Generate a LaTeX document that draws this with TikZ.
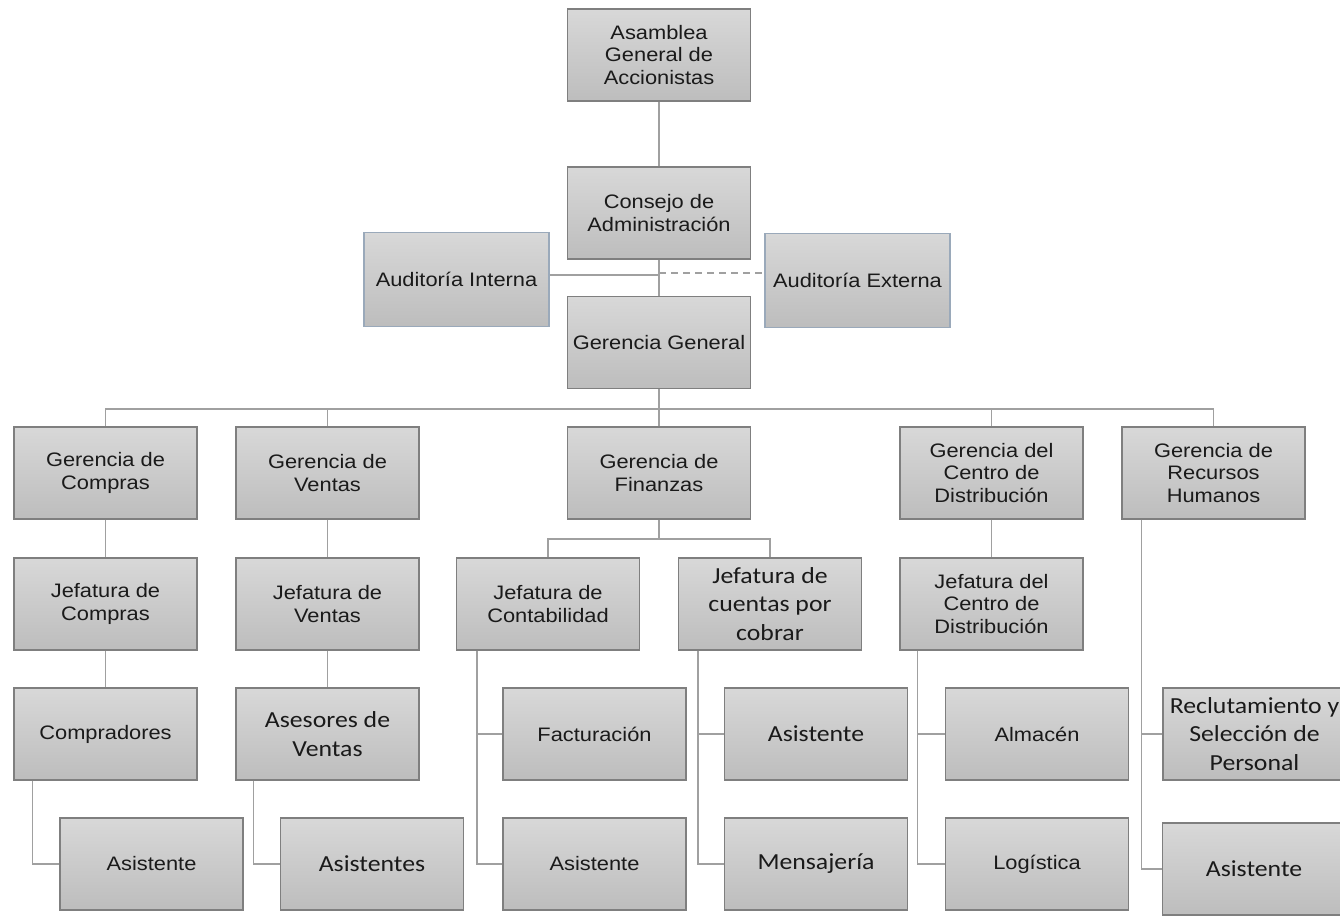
\documentclass[tikz,border=0pt]{standalone}
\usepackage{fontspec}
\setmainfont{Liberation Sans}[FakeStretch=1.12]
\newfontfamily\calib{Carlito}[FakeStretch=1.12]
\usetikzlibrary{calc}

\definecolor{boxtop}{HTML}{D8D8D8}
\definecolor{boxbot}{HTML}{BDBDBD}
\definecolor{boxline}{HTML}{7F7F7F}
\definecolor{audline}{HTML}{9AA9BA}
\definecolor{wirec}{HTML}{A0A0A0}
\definecolor{ink}{HTML}{1A1A1A}

\tikzset{
  unit/.style={draw=boxline, line width=1.3pt, top color=boxtop, bottom color=boxbot,
    minimum width=183pt, minimum height=92pt, inner sep=2pt, align=center,
    text=ink, font=\fontsize{19.5}{22.5}\selectfont},
  unitc/.style={unit, font=\calib\fontsize{23}{28.5}\selectfont},
  audit/.style={unit, draw=audline, minimum width=185pt, minimum height=94pt},
  wire/.style={draw=wirec, line width=1.6pt},
}

\begin{document}
\begin{tikzpicture}[x=1pt,y=-1pt]
\useasboundingbox (0,0) rectangle (1340,915);
\clip (0,0) rectangle (1340,915);
\fill[white] (0,0) rectangle (1340,915);

% top of the hierarchy
\node[unit] (asam) at (659,55) {Asamblea\\General de\\Accionistas};
\node[unit] (cons) at (659,213) {Consejo de\\Administración};
\node[audit] (aint) at (456.5,279.5) {Auditoría Interna};
\node[audit] (aext) at (857.5,280.5) {Auditoría Externa};
\node[unit] (ggen) at (659,342.5) {Gerencia General};

% managements
\node[unit] (gcom) at (105.5,473) {Gerencia de\\Compras};
\node[unit] (gven) at (327.5,473) {Gerencia de\\Ventas};
\node[unit] (gfin) at (659,473) {Gerencia de\\Finanzas};
\node[unit] (gdis) at (991.5,473) {Gerencia del\\Centro de\\Distribución};
\node[unit] (grh)  at (1213.5,473) {Gerencia de\\Recursos\\Humanos};

% heads
\node[unit]  (jcom) at (105.5,604) {Jefatura de\\Compras};
\node[unit]  (jven) at (327.5,604) {Jefatura de\\Ventas};
\node[unit]  (jcon) at (548,604) {Jefatura de\\Contabilidad};
\node[unitc] (jcxc) at (770,604) {Jefatura de\\cuentas por\\cobrar};
\node[unit]  (jdis) at (991.5,604) {Jefatura del\\Centro de\\Distribución};

% staff
\node[unit]  (comp) at (105.5,734) {Compradores};
\node[unitc] (ases) at (327.5,734) {Asesores de\\Ventas};
\node[unit]  (fact) at (594.5,734) {Facturación};
\node[unitc] (acxc) at (816,734) {Asistente};
\node[unit]  (alma) at (1037,734) {Almacén};
\node[unitc] (recl) at (1254.5,734) {Reclutamiento y\\Selección de\\Personal};

\node[unit]  (acom) at (151.5,864) {Asistente};
\node[unitc] (aven) at (372,864) {Asistentes};
\node[unit]  (acon) at (594.5,864) {Asistente};
\node[unitc] (mens) at (816,864) {Mensajería};
\node[unit]  (logi) at (1037,864) {Logística};
\node[unitc] (arh)  at (1254,869) {Asistente};

% connectors
\draw[wire] (asam) -- (cons);
\draw[wire] (cons) -- (ggen);
\coordinate (ai) at (659,275);
\coordinate (ae) at (659,273);
\draw[wire] (aint.east |- ai) -- (ai);
\draw[wire, dash pattern=on 7pt off 5pt] (ae) -- (aext.west |- ae);

\coordinate (bus) at (659,409);
\draw[wire] (ggen) -- (bus);
\foreach \n in {gcom,gven,gfin,gdis,grh}
  \draw[wire] (bus) -| (\n.north);

\draw[wire] (gcom) -- (jcom);
\draw[wire] (gven) -- (jven);
\draw[wire] (gdis) -- (jdis);
\draw[wire] (jcom) -- (comp);
\draw[wire] (jven) -- (ases);

\coordinate (fbus) at (659,539);
\draw[wire] (gfin) -- (fbus);
\draw[wire] (fbus) -| (jcon.north);
\draw[wire] (fbus) -| (jcxc.north);

\draw[wire] ($(comp.south west)+(19,0)$) |- (acom.west);
\draw[wire] ($(ases.south west)+(18,0)$) |- (aven.west);
\draw[wire] ($(jcon.south west)+(21,0)$) |- (acon.west);
\draw[wire] ($(jcon.south west)+(21,0)$) |- (fact.west);
\draw[wire] ($(jcxc.south west)+(20,0)$) |- (mens.west);
\draw[wire] ($(jcxc.south west)+(20,0)$) |- (acxc.west);
\draw[wire] ($(jdis.south west)+(18,0)$) |- (logi.west);
\draw[wire] ($(jdis.south west)+(18,0)$) |- (alma.west);
\draw[wire] ($(grh.south west)+(20,0)$) |- (arh.west);
\draw[wire] ($(grh.south west)+(20,0)$) |- (recl.west);
\end{tikzpicture}
\end{document}
